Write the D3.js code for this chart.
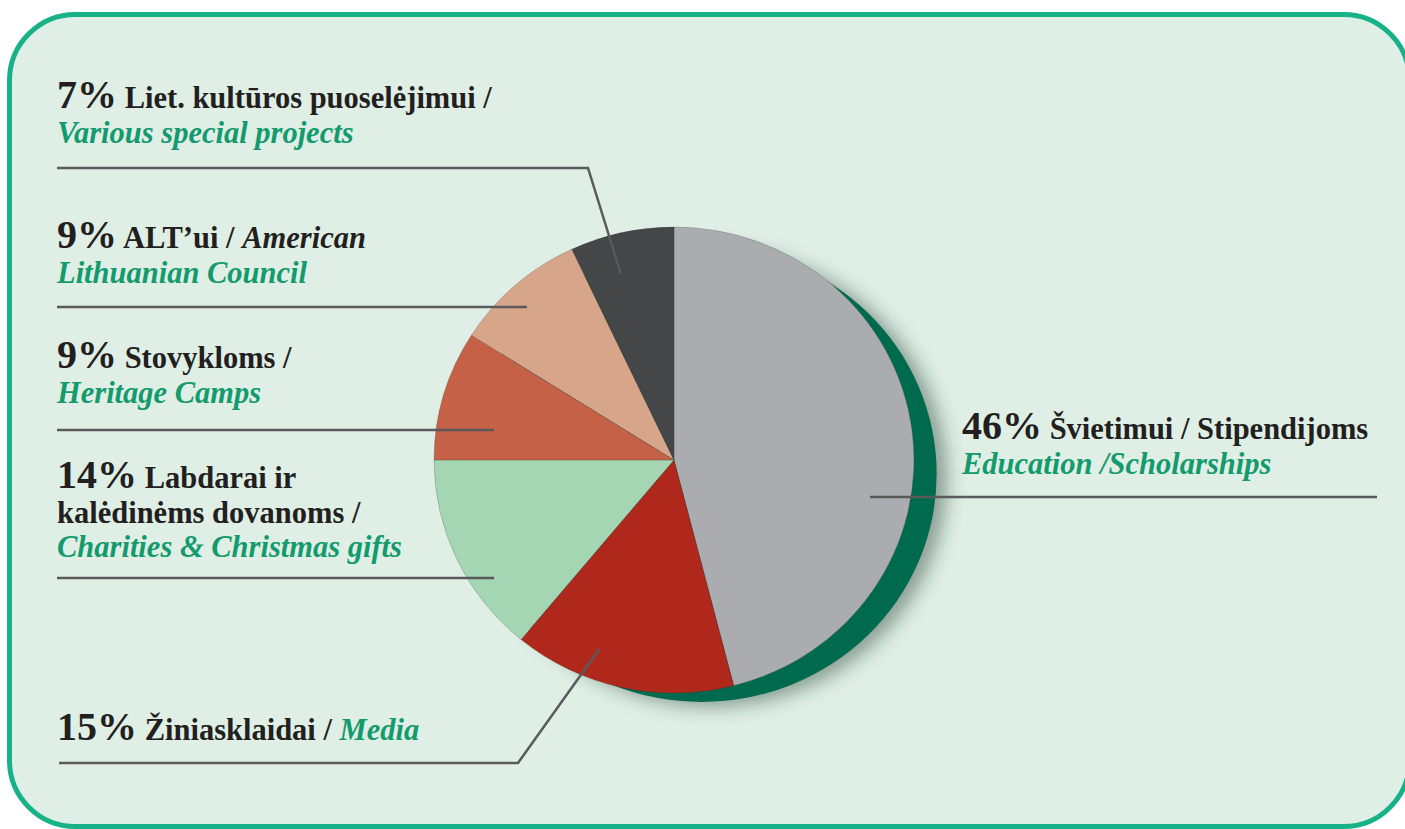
<!DOCTYPE html>
<html>
<head>
<meta charset="utf-8">
<script src="https://cdn.jsdelivr.net/npm/d3@7"></script>
<style>
  html, body { margin: 0; padding: 0; background: #fff; }
  svg { display: block; }
</style>
</head>
<body>
<div id="chart"></div>
<script>
// ----- data -----
const categories = ["Švietimui / Stipendijoms", "Žiniasklaidai", "Labdarai ir kalėdinėms dovanoms", "Stovykloms", "ALT’ui", "Liet. kultūros puoselėjimui"]
const englishNames = ["Education /Scholarships", "Media", "Charities & Christmas gifts", "Heritage Camps", "American Lithuanian Council", "Various special projects"]
const values = [46, 15, 14, 9, 9, 7]
const sliceColors = ["#abacaf", "#b0281b", "#a4d6b3", "#c46146", "#d7a58a", "#454648"]

// text lines of each label: [type, text] segments
// p = percent, b = bold, bi = bold italic black, g = bold italic green
const labelLines = [
    [[["p", "46%"], ["b", " Švietimui / Stipendijoms"]], [["g", "Education /Scholarships"]]],
    [[["p", "15%"], ["b", " Žiniasklaidai / "], ["g", "Media"]]],
    [[["p", "14%"], ["b", " Labdarai ir"]], [["b", "kalėdinėms dovanoms /"]], [["g", "Charities & Christmas gifts"]]],
    [[["p", "9%"], ["b", " Stovykloms /"]], [["g", "Heritage Camps"]]],
    [[["p", "9%"], ["b", " ALT’ui / "], ["bi", "American"]], [["g", "Lithuanian Council"]]],
    [[["p", "7%"], ["b", " Liet. kultūros puoselėjimui /"]], [["g", "Various special projects"]]]
]

// ----- layout -----
const width = 1405, height = 829
const cx = 674, cy = 460, radius = 233, xStretch = 1.03
const lineGap = 34.5
// label anchor, leader line y, and where the leader ends
const labelLayout = [
    { x: 962, y: 439, lineY: 497, x0: 870, x1: 1377 },
    { x: 57, y: 740, lineY: 763, x0: 59, elbowX: 518, anchor: [201, 0.87] },
    { x: 57, y: 488, lineY: 578, x0: 57, x1: 494 },
    { x: 57, y: 368, lineY: 430, x0: 57, x1: 494 },
    { x: 57, y: 248, lineY: 307, x0: 57, x1: 527 },
    { x: 57, y: 108, lineY: 168, x0: 57, elbowX: 588, anchor: [344.5, 0.83] }
]

const fontFamily = "'Liberation Serif', 'Times New Roman', serif"
const green = "#139a6d"

const svg = d3.select("#chart").append("svg")
    .attr("width", width)
    .attr("height", height)
    .attr("viewBox", [0, 0, width, height])

const defs = svg.append("defs")
defs.append("filter")
    .attr("id", "blur")
    .attr("x", "-20%").attr("y", "-20%")
    .attr("width", "140%").attr("height", "140%")
    .append("feGaussianBlur")
    .attr("stdDeviation", 9)

// panel with rounded border (runs slightly past the right edge)
svg.append("rect")
    .attr("x", 9.5)
    .attr("y", 14.5)
    .attr("width", 1400)
    .attr("height", 812)
    .attr("rx", 66)
    .style("fill", "#dfefe6")
    .style("stroke", "#17b287")
    .style("stroke-width", 5)

// ----- pie -----
const pie = d3.pie().sort(null).value(d => d)
const arcs = pie(values)
const arc = d3.arc().innerRadius(0).outerRadius(radius)

const g = svg.append("g")
    .attr("transform", `translate(${cx},${cy}) scale(${xStretch},1)`)

// soft shadow + green rim behind the pie
g.append("circle")
    .attr("cx", 36)
    .attr("cy", 18)
    .attr("r", radius - 4)
    .style("fill", "rgba(30,60,45,0.45)")
    .attr("filter", "url(#blur)")
g.append("circle")
    .attr("cx", 27)
    .attr("cy", 14)
    .attr("r", radius - 5)
    .style("fill", "#006a4e")

g.selectAll("path.slice")
    .data(arcs)
    .join("path")
    .attr("class", "slice")
    .attr("d", arc)
    .style("fill", (d, i) => sliceColors[i])
    .style("stroke", "rgba(40,40,40,0.35)")
    .style("stroke-width", 0.6)

// ----- leader lines -----
function anchorPoint(a) {
    const [px, py] = d3.pointRadial(a[0] * Math.PI / 180, radius * a[1])
    return [cx + px * xStretch, cy + py]
}

svg.append("g")
    .selectAll("path")
    .data(labelLayout)
    .join("path")
    .attr("d", d => {
        if (d.anchor) return d3.line()([[d.x0, d.lineY], [d.elbowX, d.lineY], anchorPoint(d.anchor)])
        return d3.line()([[d.x0, d.lineY], [d.x1, d.lineY]])
    })
    .style("fill", "none")
    .style("stroke", "#5a5a5a")
    .style("stroke-width", 2.5)

// ----- labels -----
const styles = {
    p: { size: 40, style: "normal", color: "#231f20" },
    b: { size: 30.5, style: "normal", color: "#231f20" },
    bi: { size: 30.5, style: "italic", color: "#231f20" },
    g: { size: 30.5, style: "italic", color: green }
}

labelLines.forEach((lines, i) => {
    const pos = labelLayout[i]
    const t = svg.append("text")
        .attr("font-family", fontFamily)
        .attr("font-weight", "bold")
    lines.forEach((segs, li) => {
        segs.forEach(([type, txt], si) => {
            const s = styles[type]
            const ts = t.append("tspan")
                .style("font-size", s.size + "px")
                .style("font-style", s.style)
                .style("fill", s.color)
                .style("white-space", "pre")
                .text(txt)
            if (si === 0) ts.attr("x", pos.x).attr("y", pos.y + li * lineGap)
        })
    })
})
</script>
</body>
</html>
